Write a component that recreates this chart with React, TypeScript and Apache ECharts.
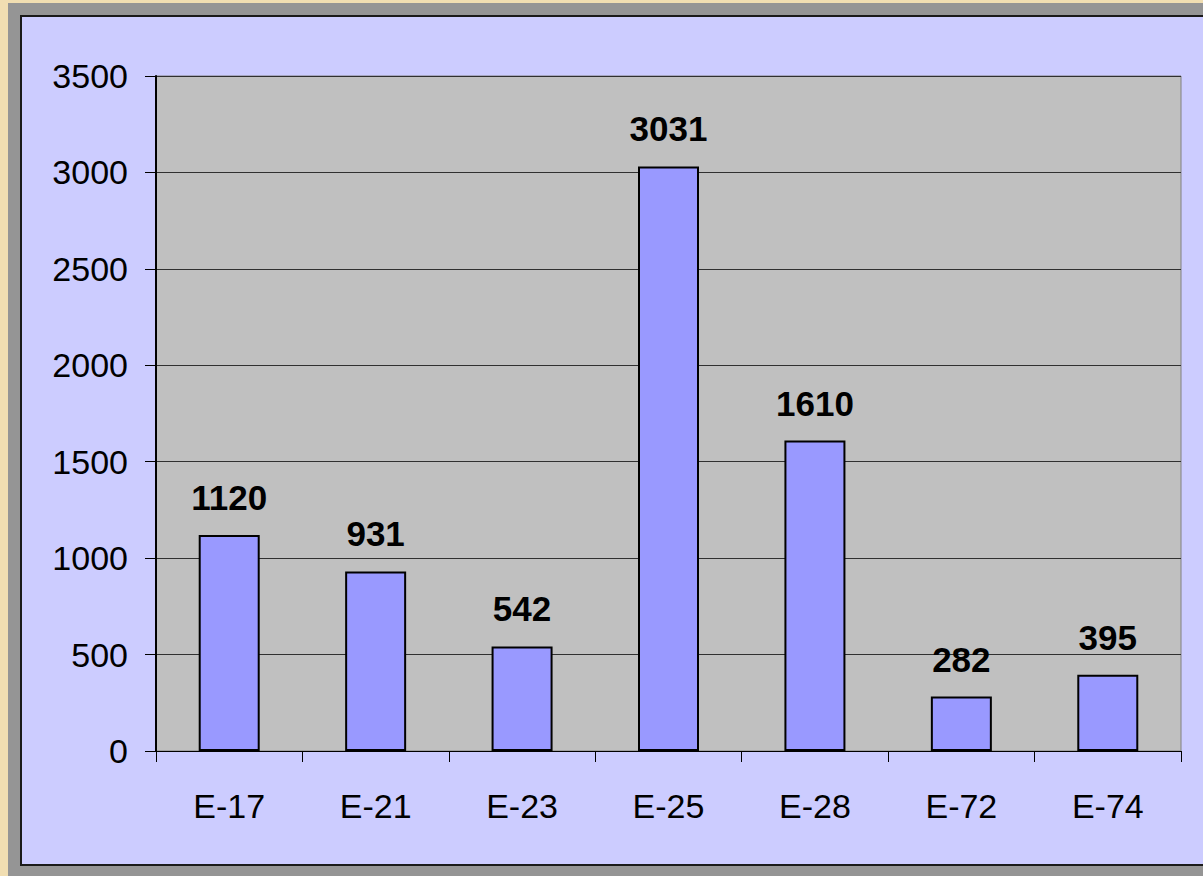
import React, { useEffect, useRef } from "react";
import * as echarts from "echarts";

const categories = ["E-17", "E-21", "E-23", "E-25", "E-28", "E-72", "E-74"];
const values = [1120, 931, 542, 3031, 1610, 282, 395];
const yTicks = [0, 500, 1000, 1500, 2000, 2500, 3000, 3500];

export default function App() {
  const ref = useRef<HTMLDivElement>(null);
  useEffect(() => {
    if (!ref.current) return;
    const chart = echarts.init(ref.current, null, { renderer: "svg" });
    const font = "'Liberation Sans', Arial, sans-serif";
    chart.setOption({
      animation: false,
      backgroundColor: "#f1deb2",
      graphic: [
        {
          type: "rect",
          z: 0,
          silent: true,
          shape: { x: 8, y: 3, width: 1195, height: 873 },
          style: { fill: "#959595" },
        },
        {
          type: "rect",
          z: 1,
          silent: true,
          shape: { x: 21, y: 16, width: 1200, height: 849 },
          style: { fill: "#ccccff", stroke: "#1a1a1a", lineWidth: 2 },
        },
      ],
      grid: {
        left: 156,
        right: 1203 - 1181,
        top: 76,
        bottom: 876 - 751,
        show: true,
        backgroundColor: "#c0c0c0",
        borderColor: "#808080",
        borderWidth: 1,
        z: 3,
      },
      xAxis: {
        type: "category",
        data: categories,
        z: 4,
        axisLine: { show: true, lineStyle: { color: "#000", width: 1 } },
        axisTick: {
          show: true,
          alignWithLabel: false,
          length: 11,
          lineStyle: { color: "#000" },
        },
        axisLabel: {
          color: "#000",
          fontSize: 34,
          fontFamily: font,
          margin: 38,
        },
      },
      yAxis: {
        type: "value",
        min: yTicks[0],
        max: yTicks[yTicks.length - 1],
        interval: 500,
        z: 4,
        axisLine: { show: true, lineStyle: { color: "#000", width: 2 } },
        axisTick: { show: true, length: 11, lineStyle: { color: "#000" } },
        axisLabel: {
          color: "#000",
          fontSize: 34,
          fontFamily: font,
          margin: 28,
          formatter: (v: number) => String(v),
        },
        splitLine: { show: true, lineStyle: { color: "#303030", width: 1 } },
      },
      series: [
        {
          type: "bar",
          z: 5,
          data: values,
          barWidth: 61,
          itemStyle: { color: "#9999ff", borderColor: "#000", borderWidth: 2 },
          label: {
            show: true,
            position: "top",
            distance: 20,
            color: "#000",
            fontSize: 35,
            fontWeight: "bold",
            fontFamily: font,
          },
        },
      ],
    });
    return () => chart.dispose();
  }, []);
  return (
    <div
      ref={ref}
      style={{ position: "absolute", left: 0, top: 0, width: 1203, height: 876 }}
    />
  );
}
